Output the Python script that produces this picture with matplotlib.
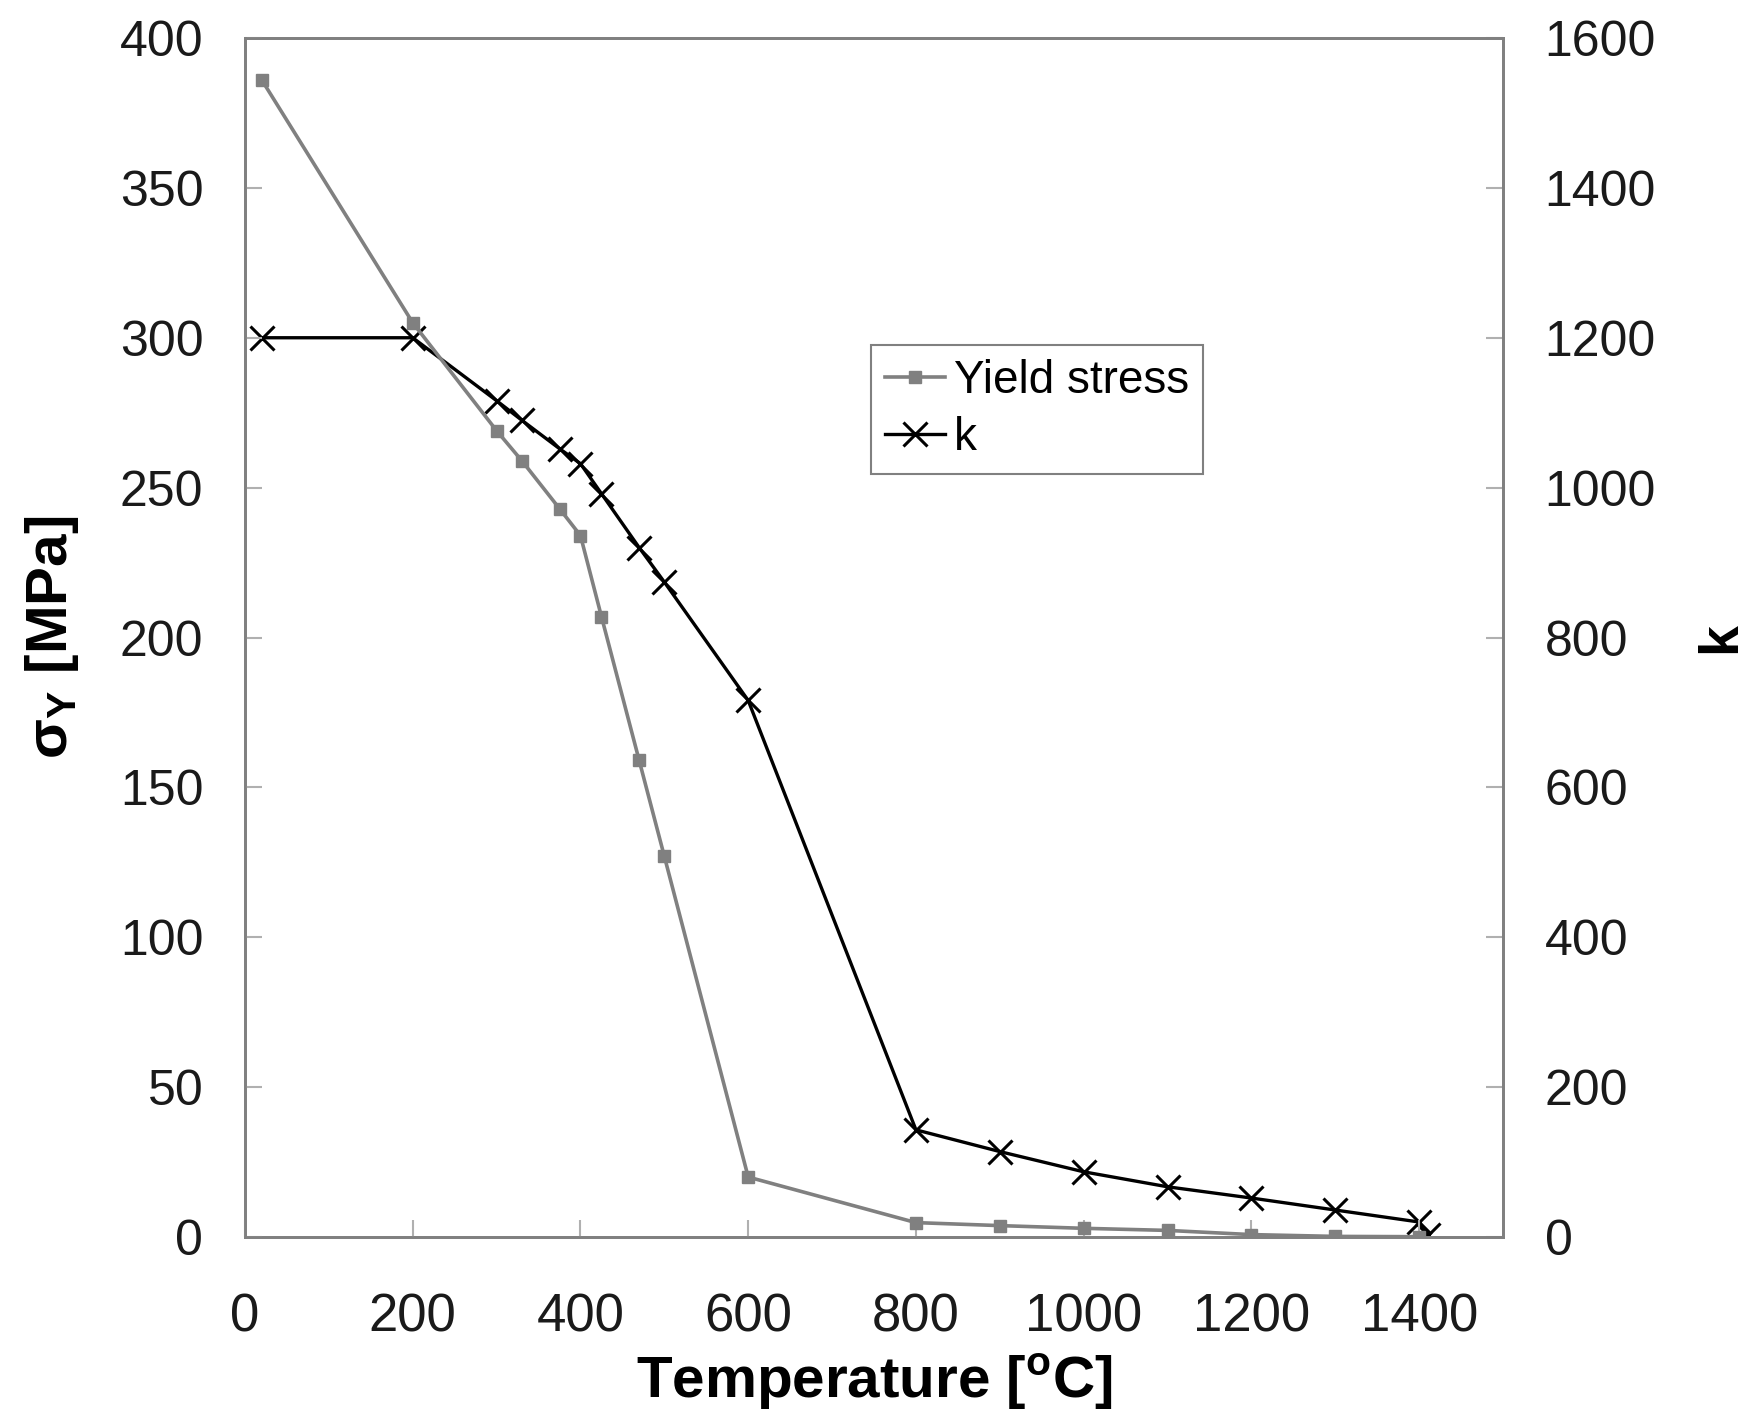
import numpy as np
import matplotlib
matplotlib.use("Agg")
import matplotlib.pyplot as plt

# datos
temp_yield = [20, 200, 300, 330, 375, 400, 425, 470, 500, 600, 800, 900, 1000, 1100, 1200, 1300, 1400]
yield_stress = [386, 305, 269, 259, 243, 234, 207, 159, 127, 20, 4.8, 3.8, 2.9, 2.2, 0.8, 0.2, 0.1]

temp_k = [20, 200, 300, 330, 375, 400, 425, 470, 500, 600, 800, 900, 1000, 1100, 1200, 1300, 1400, 1410]
k_values = [1200, 1200, 1116, 1090, 1052, 1032, 992, 920, 874, 716, 143, 114, 87, 67, 52, 36, 20, 3]

x_ticks = [0, 200, 400, 600, 800, 1000, 1200, 1400]
left_ticks = [0, 50, 100, 150, 200, 250, 300, 350, 400]
right_ticks = [0, 200, 400, 600, 800, 1000, 1200, 1400, 1600]

plt.rcParams['font.family'] = ['Liberation Sans', 'DejaVu Sans']
plt.rcParams['mathtext.fontset'] = 'custom'
plt.rcParams['mathtext.rm'] = 'Liberation Sans'
plt.rcParams['mathtext.bf'] = 'Liberation Sans:bold'

fig = plt.figure(figsize=(17.54, 14.24), dpi=100)
ax = fig.add_axes([245 / 1754, 1 - 1237 / 1424, 1258 / 1754, 1199 / 1424])
ax2 = ax.twinx()

gris = '#808080'
l1, = ax.plot(temp_yield, yield_stress, color=gris, lw=2.6, marker='s', ms=8,
              mfc=gris, mec=gris, label='Yield stress')
l2, = ax2.plot(temp_k, k_values, color='black', lw=2.4, marker='x', ms=17,
               mew=2.2, label='k')

ax.set_xlim(0, 1500)
ax.set_ylim(0, 400)
ax2.set_ylim(0, 1600)
ax.set_xticks(x_ticks)
ax.set_yticks(left_ticks)
ax2.set_yticks(right_ticks)

for a in (ax, ax2):
    for s in a.spines.values():
        s.set_color(gris)
        s.set_linewidth(2)

ax.tick_params(axis='y', direction='in', length=12, width=1.5, color='#b0b0b0',
               labelsize=36, pad=30, labelcolor='#1a1a1a')
ax.tick_params(axis='x', direction='in', length=12, width=1.5, color='#b0b0b0',
               labelsize=38, pad=40, labelcolor='#1a1a1a')
ax2.tick_params(axis='y', direction='in', length=12, width=1.5, color='#b0b0b0',
                labelsize=36, pad=30, labelcolor='#1a1a1a')

ax.set_xlabel(r'Temperature [$^{\mathbf{o}}$C]', fontsize=42, fontweight='bold', labelpad=6)
ax.set_ylabel(r'σ$_{\mathbf{Y}}$ [MPa]', fontsize=42, fontweight='bold', labelpad=28)
ax2.set_ylabel('k', fontsize=40, fontweight='bold', labelpad=28)

leg = ax.legend([l1, l2], ['Yield stress', 'k'], loc='upper left',
                bbox_to_anchor=(0.498, 0.744), fontsize=33, frameon=True,
                fancybox=False, framealpha=1, edgecolor=gris, handlelength=1.3,
                handletextpad=0.2, borderpad=0.3, labelspacing=0.3,
                borderaxespad=0)
leg.get_frame().set_linewidth(1.5)
ax.set_zorder(ax2.get_zorder() + 1)
ax.patch.set_visible(False)

fig.savefig('out.png', dpi=100)
